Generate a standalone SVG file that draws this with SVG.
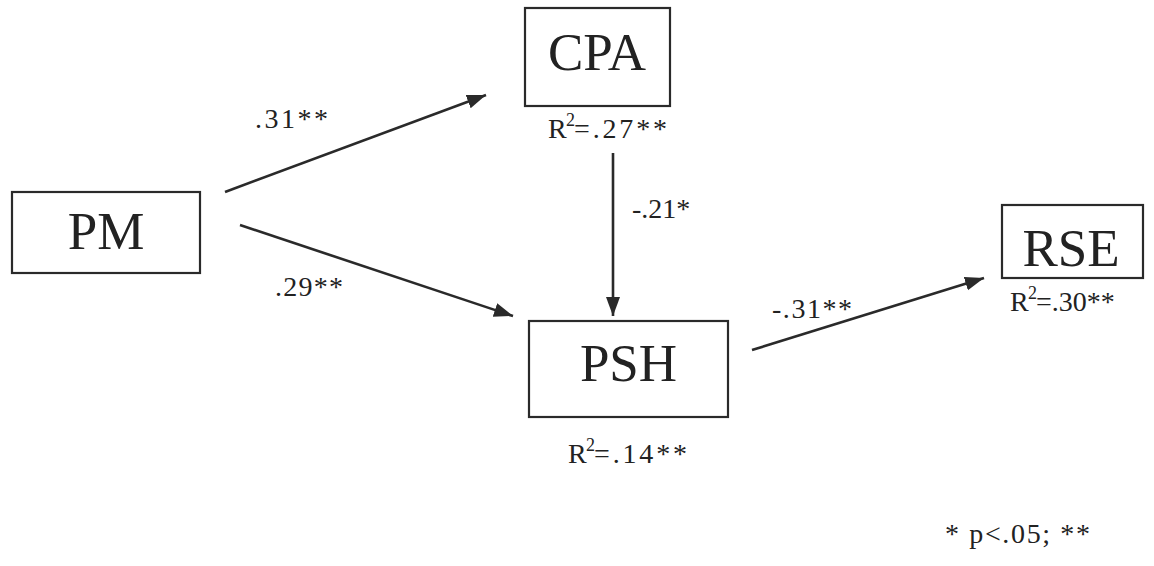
<svg xmlns="http://www.w3.org/2000/svg" width="1154" height="566" viewBox="0 0 1154 566">
<style>
.box{fill:#fff;stroke:#2a2a2a;stroke-width:2.2}
.nt{font-family:"Liberation Serif","Times New Roman",serif;font-size:53px;fill:#222;text-anchor:middle}
.lb{font-family:"Liberation Serif","Times New Roman",serif;font-size:28px;fill:#222}
.sup{font-family:"Liberation Serif","Times New Roman",serif;font-size:18px;fill:#222}
.ar{stroke:#2a2a2a;stroke-width:2.6;fill:none;marker-end:url(#ah)}
</style>
<defs>
<marker id="ah" markerUnits="userSpaceOnUse" markerWidth="22" markerHeight="18" refX="19" refY="8" orient="auto">
<path d="M0,1 L19,8 L0,15 Z" fill="#2a2a2a"/>
</marker>
</defs>
<rect width="1154" height="566" fill="#fff"/>
<g id="connectors">
<line class="ar" x1="225" y1="192" x2="486" y2="95"/>
<line class="ar" x1="240" y1="225" x2="513" y2="316"/>
<line class="ar" x1="613" y1="153" x2="613" y2="316"/>
<line class="ar" x1="752" y1="350" x2="984" y2="278"/>
<text class="lb" x="255" y="128" textLength="73" lengthAdjust="spacing">.31**</text>
<text class="lb" x="275" y="296" textLength="68" lengthAdjust="spacing">.29**</text>
<text class="lb" x="632" y="218">-.21*</text>
<text class="lb" x="772" y="318" textLength="80" lengthAdjust="spacing">-.31**</text>
</g>
<g id="PM">
<rect class="box" x="12" y="192" width="188" height="81"/>
<text class="nt" x="106" y="249">PM</text>
</g>
<g id="CPA">
<rect class="box" x="525" y="8" width="145" height="98"/>
<text class="nt" x="597" y="70">CPA</text>
<text class="lb" x="548" y="138">R</text>
<text class="sup" x="566" y="126">2</text>
<text class="lb" x="574" y="138" textLength="93" lengthAdjust="spacing">=.27**</text>
</g>
<g id="PSH">
<rect class="box" x="529" y="321" width="199" height="96"/>
<text class="nt" x="628.5" y="381">PSH</text>
<text class="lb" x="568" y="463">R</text>
<text class="sup" x="586" y="451">2</text>
<text class="lb" x="594" y="463" textLength="93" lengthAdjust="spacing">=.14**</text>
</g>
<g id="RSE">
<rect class="box" x="1002" y="205" width="141" height="73"/>
<text class="nt" x="1071" y="266">RSE</text>
<text class="lb" x="1010" y="311">R</text>
<text class="sup" x="1028" y="299">2</text>
<text class="lb" x="1036" y="311">=.30**</text>
</g>
<text class="lb" x="945" y="543" textLength="145" lengthAdjust="spacing">* p&lt;.05; **</text>
</svg>
